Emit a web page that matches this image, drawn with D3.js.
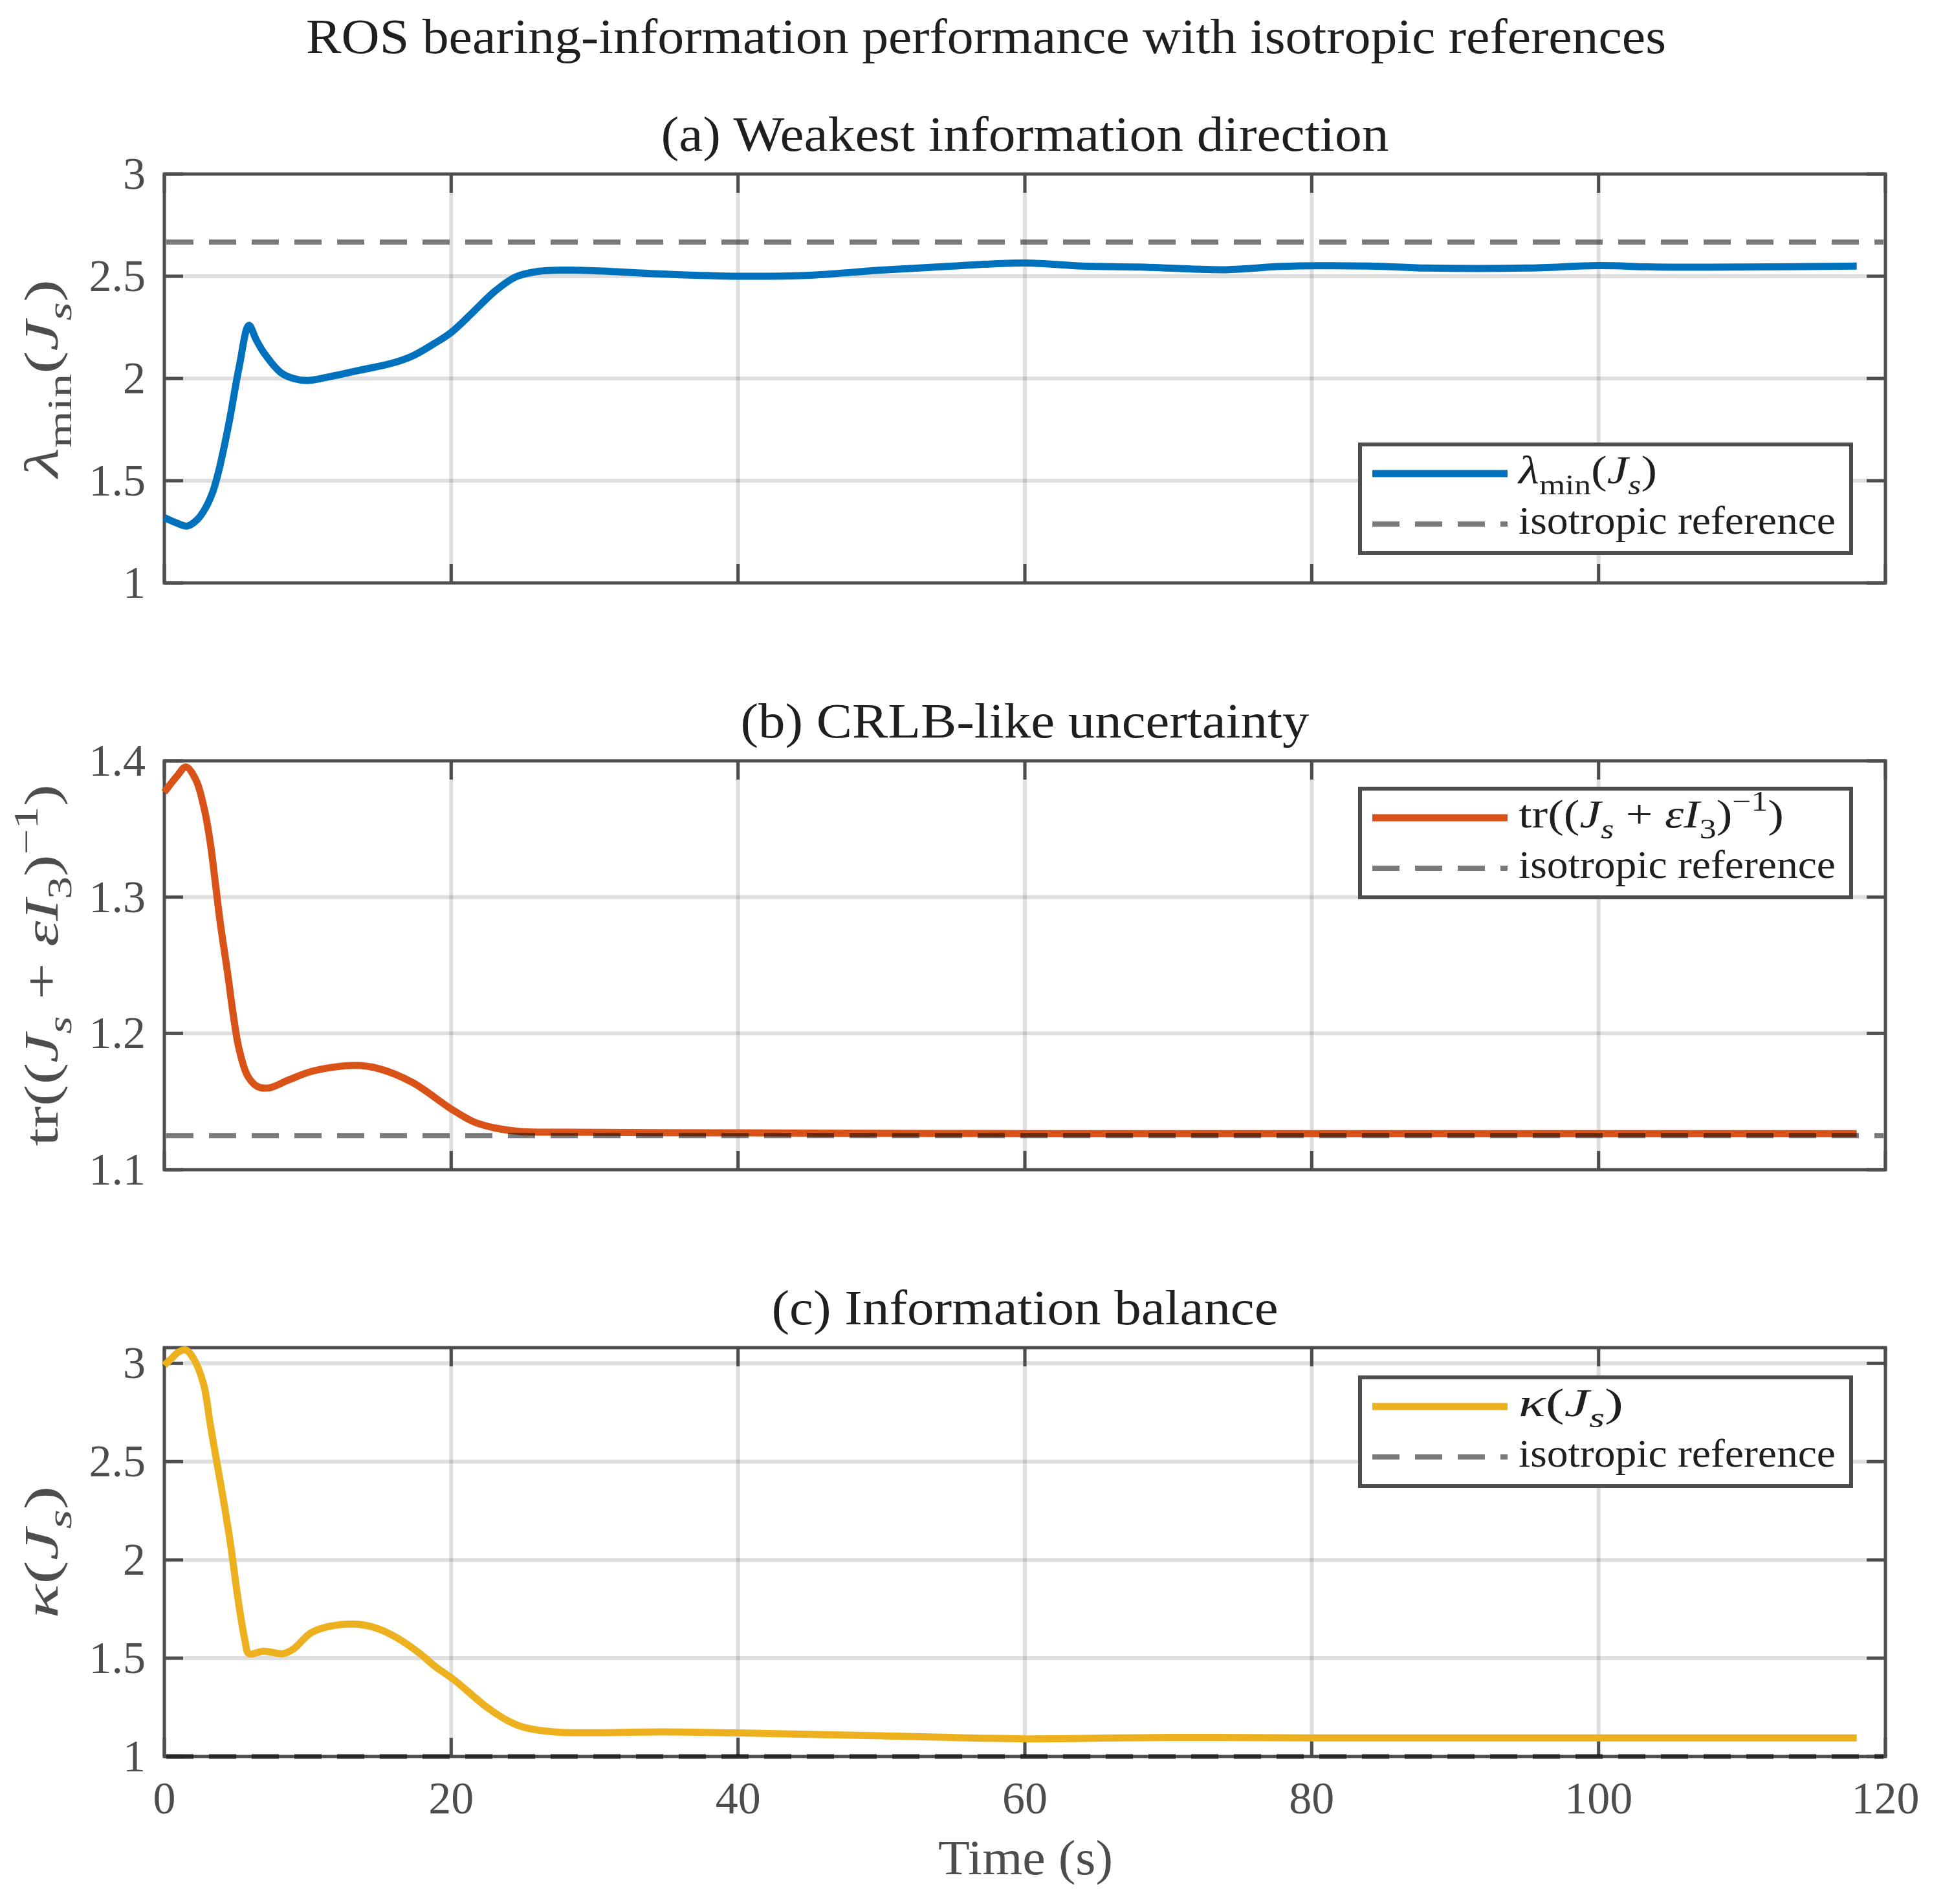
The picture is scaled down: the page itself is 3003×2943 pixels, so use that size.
<!DOCTYPE html>
<html>
<head>
<meta charset="utf-8">
<script src="https://cdn.jsdelivr.net/npm/d3@7"></script>
<style>
  html, body { margin: 0; padding: 0; background: #ffffff; }
  svg { display: block; }
</style>
</head>
<body>
<svg id="chart" width="3003" height="2943"></svg>
<script>
// ---------------- DATA ----------------
const xTicks = [0, 20, 40, 60, 80, 100, 120];

const lambdaT = [0, 0.8, 1.6, 2.3, 2.9, 3.4, 3.8, 4.5, 5.2, 5.9, 6.4, 7.0, 8.1, 9.0, 10, 11.6, 13.6, 15.9, 17.3, 18.8, 20, 21.6, 23.1, 24.5, 26, 28, 30, 35, 40, 45, 50, 55, 60, 64, 68, 74, 78, 84, 88, 95, 100, 104, 110, 118];
const lambdaV = [1.32, 1.295, 1.278, 1.31, 1.37, 1.45, 1.55, 1.78, 2.05, 2.26, 2.19, 2.12, 2.03, 2.0, 1.99, 2.01, 2.04, 2.075, 2.11, 2.17, 2.225, 2.33, 2.43, 2.497, 2.523, 2.53, 2.527, 2.51, 2.5, 2.505, 2.53, 2.55, 2.565, 2.55, 2.545, 2.532, 2.548, 2.55, 2.54, 2.54, 2.552, 2.545, 2.545, 2.55];
const lambdaRef = 8 / 3;
const lambdaTicks = [1, 1.5, 2, 2.5, 3];

const trT = [0, 0.9, 1.5, 2.2, 2.8, 3.2, 3.55, 3.9, 4.4, 4.8, 5.2, 5.8, 6.5, 7.3, 8.7, 10.4, 13.3, 15, 17.3, 20, 21.6, 23.1, 24.8, 28, 40, 60, 80, 100, 118];
const trV = [1.377, 1.389, 1.3955, 1.386, 1.364, 1.340, 1.311, 1.281, 1.245, 1.214, 1.189, 1.169, 1.161, 1.16, 1.166, 1.1725, 1.1765, 1.174, 1.164, 1.1446, 1.135, 1.1305, 1.128, 1.1275, 1.127, 1.1265, 1.1265, 1.1265, 1.1265];
const trRef = 1.125;
const trTicks = [1.1, 1.2, 1.3, 1.4];

const kappaT = [0, 0.5, 1.0, 1.5, 2.07, 2.75, 3.2, 3.58, 3.98, 4.48, 4.7, 5.16, 5.61, 5.9, 6.9, 8.25, 8.98, 10.2, 11.4, 13.2, 14.7, 16.2, 17.7, 18.9, 20.2, 22.5, 24, 25, 26.5, 28, 35, 40, 50, 60, 70, 80, 100, 118];
const kappaV = [2.99, 3.025, 3.058, 3.068, 3.02, 2.89, 2.69, 2.53, 2.365, 2.145, 2.036, 1.79, 1.595, 1.523, 1.536, 1.523, 1.546, 1.628, 1.66, 1.674, 1.655, 1.605, 1.53, 1.457, 1.39, 1.25, 1.18, 1.15, 1.13, 1.122, 1.125, 1.12, 1.105, 1.09, 1.097, 1.095, 1.095, 1.095];
const kappaRef = 1;
const kappaTicks = [1, 1.5, 2, 2.5, 3];

const titleText = "ROS bearing-information performance with isotropic references";
const subTitles = ["(a) Weakest information direction", "(b) CRLB-like uncertainty", "(c) Information balance"];
const xLabelText = "Time (s)";
const refLabel = "isotropic reference";

// ---------------- STYLE / LAYOUT ----------------
const FONT = "'Liberation Serif', 'Times New Roman', serif";
const AX = "#4d4d50";
const TXT = "#1f1f1f";
const colors = ["#0072BD", "#D95319", "#EDB120"];
const refColor = "#7a7a7c";

const left = 254, right = 2914;
const tops = [269, 1176, 2083];
const H = 632;

const svg = d3.select("#chart");
const x = d3.scaleLinear().domain([0, 120]).range([left, right]);

function mathText(sel, parts, fs) {
  let shift = 0;
  parts.forEach(p => {
    const ts = sel.append("tspan").text(p.t);
    let target = 0;
    if (p.sub) target = fs * 0.28;
    if (p.sup) target = -fs * 0.42;
    ts.attr("dy", target - shift);
    shift = target;
    if (p.sub || p.sup) ts.attr("font-size", fs * 0.7);
    if (p.i) ts.attr("font-style", "italic");
  });
}

const panels = [
  { t: lambdaT, v: lambdaV, ref: lambdaRef, dom: [1, 3], ticks: lambdaTicks, fmt: d3.format("~g"),
    ylab: [{t:"λ", i:1},{t:"min", sub:1},{t:"("},{t:"J", i:1},{t:"s", i:1, sub:1},{t:")"}], ylabLen: 306,
    leg: [{t:"λ", i:1},{t:"min", sub:1},{t:"("},{t:"J", i:1},{t:"s", i:1, sub:1},{t:")"}], legLen: 214,
    legTop: 684 },
  { t: trT, v: trV, ref: trRef, dom: [1.1, 1.4], ticks: trTicks, fmt: d3.format(".1f"),
    ylab: [{t:"tr(("},{t:"J", i:1},{t:"s", i:1, sub:1},{t:" + "},{t:"ε", i:1},{t:"I", i:1},{t:"3", sub:1},{t:")"},{t:"−1", sup:1},{t:")"}], ylabLen: 559,
    leg: [{t:"tr(("},{t:"J", i:1},{t:"s", i:1, sub:1},{t:" + "},{t:"ε", i:1},{t:"I", i:1},{t:"3", sub:1},{t:")"},{t:"−1", sup:1},{t:")"}], legLen: 410,
    legTop: 1216 },
  { t: kappaT, v: kappaV, ref: kappaRef, dom: [1, 3.08], ticks: kappaTicks, fmt: d3.format("~g"),
    ylab: [{t:"κ", i:1},{t:"("},{t:"J", i:1},{t:"s", i:1, sub:1},{t:")"}], ylabLen: 205,
    leg: [{t:"κ", i:1},{t:"("},{t:"J", i:1},{t:"s", i:1, sub:1},{t:")"}], legLen: 162,
    legTop: 2126 }
];

// Title
svg.append("text")
  .attr("x", 1524).attr("y", 82)
  .attr("text-anchor", "middle")
  .attr("font-family", FONT).attr("font-size", 76).attr("fill", TXT)
  .attr("textLength", 2102).attr("lengthAdjust", "spacingAndGlyphs")
  .text(titleText);

const subLens = [1125, 879, 783];

panels.forEach((p, k) => {
  const top = tops[k], bottom = top + H;
  const y = d3.scaleLinear().domain(p.dom).range([bottom, top]);
  const g = svg.append("g");

  // grid
  xTicks.forEach(tv => {
    if (tv === 0 || tv === 120) return;
    g.append("line").attr("x1", x(tv)).attr("x2", x(tv)).attr("y1", top).attr("y2", bottom)
      .attr("stroke", "#262626").attr("stroke-opacity", 0.15).attr("stroke-width", 6);
  });
  p.ticks.forEach(tv => {
    if (Math.abs(y(tv) - top) < 1 || Math.abs(y(tv) - bottom) < 1) return;
    g.append("line").attr("x1", left).attr("x2", right).attr("y1", y(tv)).attr("y2", y(tv))
      .attr("stroke", "#262626").attr("stroke-opacity", 0.15).attr("stroke-width", 6);
  });

  // ticks (all four sides, inward)
  const TL = 29;
  xTicks.forEach(tv => {
    g.append("line").attr("x1", x(tv)).attr("x2", x(tv)).attr("y1", bottom).attr("y2", bottom - TL)
      .attr("stroke", AX).attr("stroke-width", 5);
    g.append("line").attr("x1", x(tv)).attr("x2", x(tv)).attr("y1", top).attr("y2", top + TL)
      .attr("stroke", AX).attr("stroke-width", 5);
  });
  p.ticks.forEach(tv => {
    g.append("line").attr("x1", left).attr("x2", left + TL).attr("y1", y(tv)).attr("y2", y(tv))
      .attr("stroke", AX).attr("stroke-width", 5);
    g.append("line").attr("x1", right).attr("x2", right - TL).attr("y1", y(tv)).attr("y2", y(tv))
      .attr("stroke", AX).attr("stroke-width", 5);
    g.append("text").attr("x", 225).attr("y", y(tv) + 23)
      .attr("text-anchor", "end").attr("font-family", FONT).attr("font-size", 70).attr("fill", AX)
      .text(p.fmt(tv));
  });

  // frame
  g.append("rect").attr("x", left).attr("y", top).attr("width", right - left).attr("height", H)
    .attr("fill", "none").attr("stroke", AX).attr("stroke-width", 5);

  // data line
  const line = d3.line().x(d => x(d[0])).y(d => y(d[1])).curve(d3.curveCatmullRom.alpha(0.5));
  const pts = p.t.map((tv, i) => [tv, p.v[i]]);
  g.append("path").attr("d", line(pts)).attr("fill", "none")
    .attr("stroke", colors[k]).attr("stroke-width", 11).attr("stroke-linejoin", "round").attr("stroke-linecap", "butt");

  // reference dashed
  g.append("line").attr("x1", left + 3).attr("x2", right - 3).attr("y1", y(p.ref)).attr("y2", y(p.ref))
    .attr("stroke", refColor).attr("stroke-width", 8).attr("stroke-dasharray", "42,24")
    .style("mix-blend-mode", "multiply");

  // subtitle
  svg.append("text").attr("x", (left + right) / 2).attr("y", top - 36)
    .attr("text-anchor", "middle").attr("font-family", FONT).attr("font-size", 76).attr("fill", TXT)
    .attr("textLength", subLens[k]).attr("lengthAdjust", "spacingAndGlyphs")
    .text(subTitles[k]);

  // y label
  const yl = svg.append("text")
    .attr("transform", `translate(89,${(top + bottom) / 2}) rotate(-90)`)
    .attr("text-anchor", "middle").attr("font-family", FONT).attr("font-size", 74).attr("fill", AX)
    .attr("textLength", p.ylabLen).attr("lengthAdjust", "spacingAndGlyphs");
  mathText(yl, p.ylab, 74);

  // legend
  const lt = p.legTop;
  svg.append("rect").attr("x", 2102).attr("y", lt + 3).attr("width", 759).attr("height", 168)
    .attr("fill", "#ffffff").attr("stroke", AX).attr("stroke-width", 6);
  const r1 = lt + 48, r2 = lt + 126;
  svg.append("line").attr("x1", 2121).attr("x2", 2330).attr("y1", r1).attr("y2", r1)
    .attr("stroke", colors[k]).attr("stroke-width", 11);
  svg.append("line").attr("x1", 2121).attr("x2", 2330).attr("y1", r2).attr("y2", r2)
    .attr("stroke", refColor).attr("stroke-width", 8).attr("stroke-dasharray", "42,24");
  const l1 = svg.append("text").attr("x", 2347).attr("y", r1 + 15)
    .attr("font-family", FONT).attr("font-size", 62).attr("fill", TXT)
    .attr("textLength", p.legLen).attr("lengthAdjust", "spacingAndGlyphs");
  mathText(l1, p.leg, 62);
  svg.append("text").attr("x", 2347).attr("y", r2 + 15)
    .attr("font-family", FONT).attr("font-size", 62).attr("fill", TXT)
    .attr("textLength", 490).attr("lengthAdjust", "spacingAndGlyphs")
    .text(refLabel);

  // x tick labels on bottom panel only
  if (k === 2) {
    xTicks.forEach(tv => {
      svg.append("text").attr("x", x(tv)).attr("y", bottom + 88)
        .attr("text-anchor", "middle").attr("font-family", FONT).attr("font-size", 70).attr("fill", AX)
        .text(tv);
    });
    svg.append("text").attr("x", 1585).attr("y", 2897)
      .attr("text-anchor", "middle").attr("font-family", FONT).attr("font-size", 76).attr("fill", AX)
      .attr("textLength", 270).attr("lengthAdjust", "spacingAndGlyphs")
      .text(xLabelText);
  }
});
</script>
</body>
</html>
